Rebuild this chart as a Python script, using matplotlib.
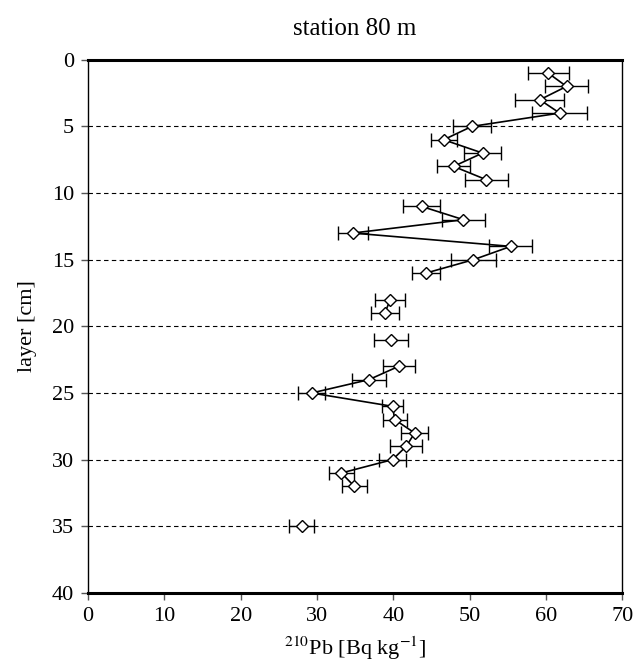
import numpy as np
import matplotlib
matplotlib.use('Agg')
import matplotlib.pyplot as plt

plt.rcParams['font.family'] = 'Liberation Serif'
plt.rcParams['mathtext.fontset'] = 'stix'

# layer depth [cm], 210Pb activity and its uncertainty
depth = [1, 2, 3, 4, 5, 6, 7, 8, 9,
         11, 12, 13, 14, 15, 16,
         18, 19,
         21,
         23, 24, 25, 26, 27, 28, 29, 30, 31, 32,
         35]
pb210 = [60.3, 62.7, 59.2, 61.8, 50.3, 46.6, 51.7, 47.9, 52.2,
         43.7, 49.2, 34.7, 55.4, 50.5, 44.3,
         39.6, 38.9,
         39.7,
         40.7, 36.8, 29.3, 39.9, 40.2, 42.8, 41.7, 39.9, 33.2, 34.9,
         28.0]
err = [2.7, 2.8, 3.2, 3.6, 2.5, 1.7, 2.4, 2.2, 2.8,
       2.4, 2.8, 2.0, 2.8, 3.0, 1.8,
       2.0, 1.8,
       2.2,
       2.1, 2.2, 1.8, 1.4, 1.6, 1.8, 2.1, 1.8, 1.6, 1.6,
       1.6]

# line is broken where a layer is missing
line_x, line_y = [], []
for i, d in enumerate(depth):
    if i > 0 and d - depth[i - 1] > 1:
        line_x.append(np.nan)
        line_y.append(np.nan)
    line_x.append(pb210[i])
    line_y.append(d)

fig = plt.figure(figsize=(6.33, 6.64), dpi=100)
ax = fig.add_axes([0.139, 0.107, 0.844, 0.803])

for d in range(5, 40, 5):
    ax.axhline(d, color='black', linestyle=(0, (4, 3)), linewidth=0.8, zorder=1)

ax.plot(line_x, line_y, color='black', linewidth=1.2, zorder=2)
ax.errorbar(pb210, depth, xerr=err, fmt='none', ecolor='black',
            elinewidth=1.0, capsize=5, capthick=1.0, zorder=2)
ax.plot(pb210, depth, linestyle='none', marker='D', markersize=6.5,
        markerfacecolor='white', markeredgecolor='black',
        markeredgewidth=1.0, zorder=3)

ax.set_xlim(0, 70)
ax.set_ylim(40, 0)
ax.set_xticks(range(0, 71, 10))
ax.set_yticks(range(0, 41, 5))
ax.tick_params(labelsize=16, direction='out', length=5, width=1,
               color='#555555', pad=5)

for side in ['top', 'bottom']:
    ax.spines[side].set_linewidth(2.2)
for side in ['left', 'right']:
    ax.spines[side].set_linewidth(1.0)

ax.set_title('station 80 m', fontsize=18, pad=18)
ax.set_ylabel('layer [cm]', fontsize=16, labelpad=11)
ax.set_xlabel(r'$^{210}$Pb [Bq kg$^{-1}$]', fontsize=16, labelpad=6)

plt.savefig('out.png', dpi=100)
